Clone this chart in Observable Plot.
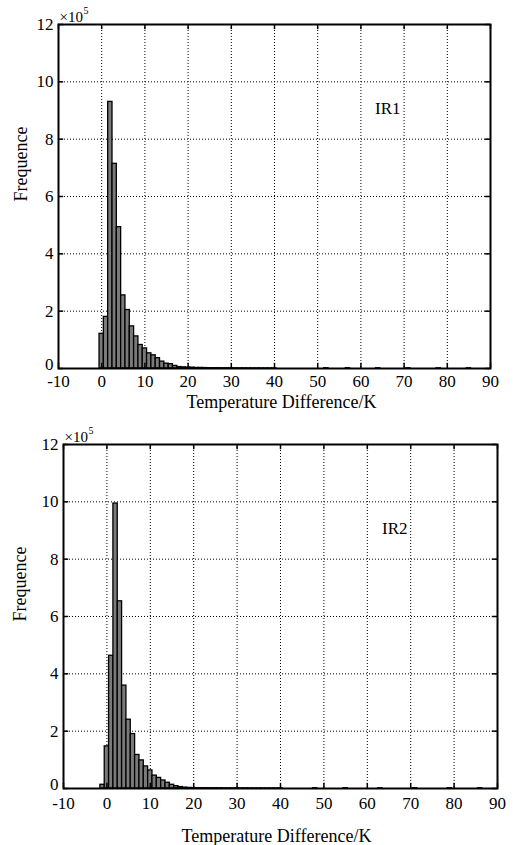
<!DOCTYPE html>
<html><head><meta charset="utf-8">
<script src="https://cdn.jsdelivr.net/npm/d3@7"></script>
<script src="https://cdn.jsdelivr.net/npm/@observablehq/plot@0.6"></script>
<style>
body{margin:0;background:#fff;}
#root{width:513px;}
svg{display:block;}
svg text{font-family:"Liberation Serif","Times New Roman",serif !important;}
</style></head><body><div id="root"></div>
<script>
// ---- data ----
const xTicks = [-10, 0, 10, 20, 30, 40, 50, 60, 70, 80, 90];
const yTicks = [0, 2, 4, 6, 8, 10, 12];
const xLabel = "Temperature Difference/K";
const yLabel = "Frequence";
const scaleNote = "×10";
const scaleExp = "5";
const panelNames = ["IR1", "IR2"];

// bin centres (K) and frequencies (×10^5)
const ir1Centers = [0, 1, 2, 3, 4, 5, 6, 7, 8, 9, 10, 11, 12, 13, 14, 15, 16, 17, 18, 19, 20, 21, 22, 23, 24, 25, 26, 27, 28, 29, 30, 31, 32, 33, 34, 35, 36, 37, 38, 39, 40, 52, 57, 64, 71, 78, 85];
const ir1Freq = [1.21, 1.80, 9.30, 7.14, 4.93, 2.55, 2.04, 1.47, 1.12, 0.82, 0.70, 0.53, 0.46, 0.36, 0.24, 0.17, 0.15, 0.09, 0.05, 0.04, 0.03, 0.03, 0.02, 0.02, 0.015, 0.01, 0.01, 0.01, 0.008, 0.008, 0.006, 0.006, 0.005, 0.005, 0.004, 0.004, 0.004, 0.003, 0.003, 0.003, 0.002, 0.01, 0.01, 0.008, 0.008, 0.006, 0.006];

const ir2Centers = [-1, 0, 1, 2, 3, 4, 5, 6, 7, 8, 9, 10, 11, 12, 13, 14, 15, 16, 17, 18, 19, 20, 21, 22, 23, 24, 25, 26, 27, 28, 29, 30, 31, 32, 33, 34, 35, 36, 37, 38, 39, 40, 48, 55, 63, 71, 79, 86];
const ir2Freq = [0.13, 1.47, 4.63, 9.94, 6.53, 3.59, 2.40, 1.90, 1.17, 0.98, 0.77, 0.63, 0.45, 0.37, 0.28, 0.20, 0.13, 0.08, 0.05, 0.03, 0.02, 0.015, 0.012, 0.01, 0.01, 0.008, 0.008, 0.006, 0.006, 0.005, 0.005, 0.004, 0.004, 0.004, 0.003, 0.003, 0.003, 0.002, 0.002, 0.002, 0.002, 0.002, 0.01, 0.01, 0.008, 0.01, 0.008, 0.008];

// ---- drawing ----
const FONT = "'Liberation Serif', 'Times New Roman', serif";
const fmt = d => String(d); // plain hyphen for negatives

function panel(centers, freq, name, L) {
  const bins = centers.map((c, i) => ({x1: c - 0.5, x2: c + 0.5, f: freq[i]}));
  return Plot.plot({
    width: 513, height: L.height,
    marginTop: L.top, marginRight: L.right, marginBottom: L.bottom, marginLeft: L.left,
    x: {domain: [-10, 90]},
    y: {domain: [0, 12]},
    style: {fontFamily: FONT, fontSize: "17px", background: "white", color: "black", overflow: "visible"},
    marks: [
      Plot.ruleX(xTicks.slice(1, -1), {stroke: "black", strokeWidth: 1, strokeDasharray: "1,2"}),
      Plot.ruleY(yTicks.slice(1, -1), {stroke: "black", strokeWidth: 1, strokeDasharray: "1,2"}),
      Plot.rectY(bins, {x1: "x1", x2: "x2", y: "f", fill: "#7a7a7a", stroke: "black", strokeWidth: 1.3}),
      Plot.ruleX(xTicks, {y1: 0, y2: 0.18, stroke: "black", strokeWidth: 1.5}),
      Plot.ruleX(xTicks, {y1: 12, y2: 11.82, stroke: "black", strokeWidth: 1.5}),
      Plot.ruleY(yTicks, {x1: -10, x2: -8.8, stroke: "black", strokeWidth: 1.5}),
      Plot.ruleY(yTicks, {x1: 90, x2: 88.8, stroke: "black", strokeWidth: 1.5}),
      Plot.frame({stroke: "black", strokeWidth: 2}),
      Plot.axisX(xTicks, {tickSize: 0, tickPadding: L.xPad, fontSize: 17, label: null, tickFormat: fmt}),
      Plot.axisY(yTicks.slice(1), {tickSize: 0, tickPadding: 5, fontSize: 17, label: null, tickFormat: fmt}),
      Plot.axisY(yTicks.slice(0, 1), {tickSize: 0, tickPadding: 5, fontSize: 17, label: null, tickFormat: fmt, dy: -4}),
      Plot.text([xLabel], {frameAnchor: "bottom", dx: L.xlDx, dy: L.xlDy, lineAnchor: "middle", fontSize: 18}),
      Plot.text([yLabel], {frameAnchor: "left", rotate: -90, dx: L.ylDx, dy: 5, lineAnchor: "middle", fontSize: 18}),
      Plot.text([scaleNote], {frameAnchor: "top-left", textAnchor: "start", lineAnchor: "bottom", dx: 1, dy: -3, fontSize: 15}),
      Plot.text([scaleExp], {frameAnchor: "top-left", textAnchor: "start", lineAnchor: "bottom", dx: 25, dy: -11, fontSize: 10}),
      Plot.text([name], {frameAnchor: "top-right", textAnchor: "end", lineAnchor: "middle", dx: -90, dy: 84, fontSize: 17})
    ]
  });
}

const root = document.getElementById("root");
root.appendChild(panel(ir1Centers, ir1Freq, panelNames[0],
  {height: 420, top: 24, bottom: 52, left: 58, right: 23, xPad: 6, xlDx: 7, xlDy: 34, ylDx: -37}));
root.appendChild(panel(ir2Centers, ir2Freq, panelNames[1],
  {height: 425, top: 24, bottom: 57, left: 63, right: 16, xPad: 8, xlDx: -4, xlDy: 48, ylDx: -43}));
</script></body></html>
